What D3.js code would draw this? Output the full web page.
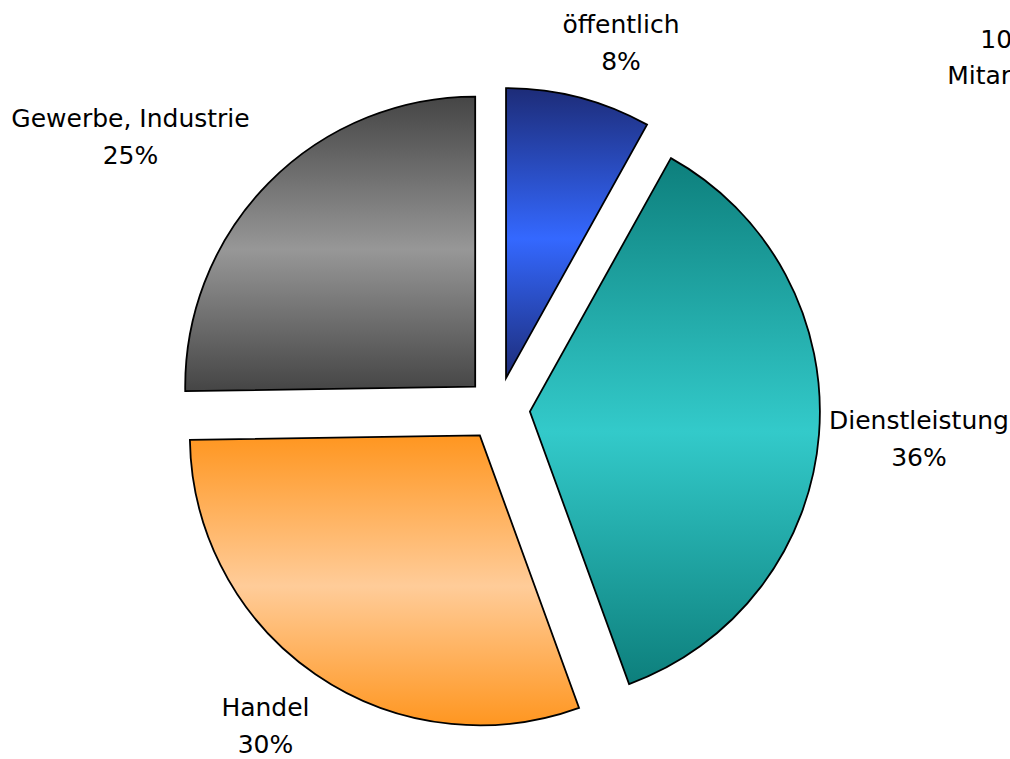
<!DOCTYPE html>
<html>
<head>
<meta charset="utf-8">
<script src="https://cdn.jsdelivr.net/npm/d3@7"></script>
<style>
  html, body { margin: 0; padding: 0; background: #ffffff; }
  svg { display: block; }
  text { font-family: "DejaVu Sans", Verdana, sans-serif; font-size: 25px; fill: #000; }
</style>
</head>
<body>
<svg id="chart" width="1010" height="759"></svg>
<script>
// Branchenverteilung der Mitarbeiter (Anteile in %)
const categories = ["öffentlich", "Dienstleistung", "Handel", "Gewerbe, Industrie"];
const shares = [8, 36, 30, 25];
const totalLabel = ["100%", "Mitarbeiter"];

// Verlauf je Segment: Randfarbe oben/unten, hellere Farbe in der Mitte
const edgeColors = ["#1d2c78", "#0d7f7c", "#ff9620", "#454545"];
const midColors  = ["#3468ff", "#33caca", "#ffcc99", "#979797"];

// Beschriftungsmitte (x) und Grundlinie der ersten Zeile je Segment
const labelLayout = [
  { x: 621,   y: 33 },
  { x: 919,   y: 429 },
  { x: 265.5, y: 716 },
  { x: 130.5, y: 127 }
];
const lineGap = 37;

const width = 1010, height = 759;
const cx = 498, cy = 409;
const radius = 290;
const explode = 32;

const svg = d3.select("#chart");
const defs = svg.append("defs");

categories.forEach((c, i) => {
  const g = defs.append("linearGradient")
    .attr("id", "grad" + i)
    .attr("x1", 0).attr("y1", 0).attr("x2", 0).attr("y2", 1);
  g.append("stop").attr("offset", "0%").attr("stop-color", edgeColors[i]);
  g.append("stop").attr("offset", "52%").attr("stop-color", midColors[i]);
  g.append("stop").attr("offset", "100%").attr("stop-color", edgeColors[i]);
});

const pie = d3.pie().sort(null).value(d => d)(shares);
const arc = d3.arc().innerRadius(0).outerRadius(radius);

const total = d3.sum(shares);

svg.append("g")
  .attr("transform", `translate(${cx},${cy})`)
  .selectAll("path")
  .data(pie)
  .join("path")
  .attr("transform", d => {
    const a = (d.startAngle + d.endAngle) / 2;
    return `translate(${Math.sin(a) * explode},${-Math.cos(a) * explode})`;
  })
  .attr("d", arc)
  .attr("fill", (d, i) => `url(#grad${i})`)
  .attr("stroke", "#000")
  .attr("stroke-width", 1.8)
  .attr("stroke-linejoin", "miter");

// Segmentbeschriftungen: Name und Prozentanteil
const labels = svg.append("g")
  .selectAll("text")
  .data(pie)
  .join("text")
  .attr("text-anchor", "middle");

labels.each(function(d, i) {
  const t = d3.select(this);
  const pos = labelLayout[i];
  t.append("tspan").attr("x", pos.x).attr("y", pos.y).text(categories[i]);
  t.append("tspan").attr("x", pos.x).attr("y", pos.y + lineGap)
    .text(Math.round(d.value / total * 100) + "%");
});

// Gesamtangabe oben rechts
const tot = svg.append("text").attr("text-anchor", "middle");
tot.append("tspan").attr("x", 1016).attr("y", 48).text(totalLabel[0]);
tot.append("tspan").attr("x", 1016).attr("y", 84).text(totalLabel[1]);
</script>
</body>
</html>
